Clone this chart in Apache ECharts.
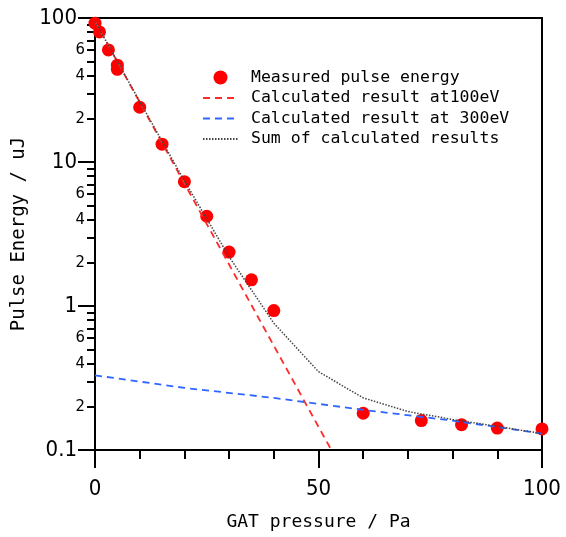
<!DOCTYPE html>
<html>
<head>
<meta charset="utf-8">
<script src="https://cdn.jsdelivr.net/npm/echarts@6/dist/echarts.min.js"></script>
<style>
	html, body { margin: 0; padding: 0; background: #fff; }
	#chart-container { width: 566px; height: 537px; }
</style>
</head>
<body>
<div id="chart-container"></div>
<script>
// measured points
const measuredPressure = [0, 1, 3, 5, 5, 10, 15, 20, 25, 30, 35, 40, 60, 73, 82, 90, 100];
const measuredEnergy = [92, 80, 60, 47, 44, 24, 13.3, 7.3, 4.2, 2.37, 1.52, 0.93, 0.18, 0.16, 0.15, 0.142, 0.14];

// calculated curves
const calc100Pressure = [0, 10, 20, 30, 40, 50, 60];
const calc100Energy = [95, 26, 7.1, 1.94, 0.53, 0.145, 0.04];
const calc300Pressure = [0, 20, 40, 60, 80, 100];
const calc300Energy = [0.33, 0.27, 0.23, 0.19, 0.16, 0.13];
const sumPressure = [0, 10, 20, 30, 40, 50, 60, 70, 80, 90, 100];
const sumEnergy = [95, 26.3, 7.4, 2.2, 0.76, 0.35, 0.23, 0.185, 0.163, 0.146, 0.13];

// y axis ticks / labels (real values, log scale)
const yMajorTicks = [0.1, 1, 10, 100];
const yMinorTicks = [0.2, 0.3, 0.4, 0.5, 0.6, 0.7, 0.8, 0.9, 2, 3, 4, 5, 6, 7, 8, 9, 20, 30, 40, 50, 60, 70, 80, 90];
const yLabelValues = [0.1, 0.2, 0.4, 0.6, 1, 2, 4, 6, 10, 20, 40, 60, 100];

const legendNames = ['Measured pulse energy', 'Calculated result at100eV', 'Calculated result at 300eV', 'Sum of calculated results'];

const monoFont = "'DejaVu Sans Mono', 'Liberation Mono', monospace";
const numFont = "'Liberation Sans Narrow', 'DejaVu Sans Condensed', 'Liberation Sans', Arial, sans-serif";

const zip = (xs, ys) => xs.map((x, i) => [x, ys[i]]);
const lg = v => Math.log10(v);

function yLabel(v) {
	const real = Math.pow(10, v);
	const e = Math.floor(v + 1e-9);
	const m = Math.round(real / Math.pow(10, e));
	if (m === 1) {
		const txt = e < 0 ? '0.1' : String(Math.round(real));
		return '{big|' + txt + '}';
	}
	return '{small|' + m + '}';
}

const chart = echarts.init(document.getElementById('chart-container'), null, {renderer: 'canvas'});

let option = {
	animation: false,
	backgroundColor: '#fff',
	grid: {
		left: 95,
		right: 24,
		top: 18,
		bottom: 87,
		show: true,
		borderColor: '#000',
		borderWidth: 2,
	},
	legend: {
		orient: 'vertical',
		left: 197,
		top: 64,
		itemWidth: 35,
		itemHeight: 14,
		itemGap: 3.5,
		data: [
			{name: legendNames[0]},
			{name: legendNames[1], itemStyle: {opacity: 0}},
			{name: legendNames[2], itemStyle: {opacity: 0}},
			{name: legendNames[3], itemStyle: {opacity: 0}},
		],
		textStyle: {
			fontFamily: monoFont,
			fontSize: 16.5,
			color: '#000',
			padding: [0, 0, 0, 8],
		},
	},
	xAxis: {
		type: 'value',
		min: 0,
		max: 100,
		interval: 50,
		axisLine: {onZero: false, lineStyle: {color: '#000', width: 2}},
		axisTick: {length: 18, lineStyle: {color: '#000', width: 2}},
		minorTick: {show: true, splitNumber: 5, length: 9, lineStyle: {color: '#000', width: 2}},
		splitLine: {show: false},
		minorSplitLine: {show: false},
		axisLabel: {
			margin: 28,
			color: '#000',
			fontFamily: numFont,
			fontSize: 22,
		},
		name: 'GAT pressure / Pa',
		nameLocation: 'middle',
		nameGap: 63,
		nameTextStyle: {fontFamily: monoFont, fontSize: 18, color: '#000'},
	},
	yAxis: [
		{
			// data axis
			type: 'log',
			logBase: 10,
			min: 0.1,
			max: 100,
			axisLine: {show: false},
			axisTick: {show: false},
			axisLabel: {show: false},
			splitLine: {show: false},
		},
		{
			// major ticks + labels, drawn in log10 space
			type: 'value',
			min: -1,
			max: 2,
			interval: 1,
			position: 'left',
			axisLine: {show: true, onZero: false, lineStyle: {color: '#000', width: 2}},
			axisTick: {show: true, length: 17, lineStyle: {color: '#000', width: 2}},
			splitLine: {show: false},
			axisLabel: {
				customValues: yLabelValues.map(lg),
				margin: 10,
				formatter: yLabel,
				rich: {
					big: {fontFamily: numFont, fontSize: 22, color: '#000', padding: [0, 8, 0, 0]},
					small: {fontFamily: numFont, fontSize: 16.5, color: '#000'},
				},
			},
			name: 'Pulse Energy / uJ',
			nameLocation: 'middle',
			nameGap: 64,
			nameTextStyle: {fontFamily: monoFont, fontSize: 19, color: '#000'},
		},
		{
			// minor ticks
			type: 'value',
			min: -1,
			max: 2,
			position: 'left',
			axisLine: {show: false, onZero: false},
			axisTick: {show: true, customValues: yMinorTicks.map(lg), length: 8, lineStyle: {color: '#000', width: 2}},
			axisLabel: {show: false},
			splitLine: {show: false},
		},
	],
	series: [
		{
			name: legendNames[0],
			type: 'scatter',
			yAxisIndex: 0,
			data: zip(measuredPressure, measuredEnergy),
			symbol: 'circle',
			symbolSize: 13,
			itemStyle: {color: '#ff0000', opacity: 1},
			z: 2,
		},
		{
			name: legendNames[1],
			type: 'line',
			yAxisIndex: 0,
			data: zip(calc100Pressure, calc100Energy),
			symbol: 'none',
			clip: true,
			lineStyle: {color: '#ff2a2a', width: 1.8, type: [7, 5]},
			itemStyle: {color: '#ff2a2a'},
			z: 3,
		},
		{
			name: legendNames[2],
			type: 'line',
			yAxisIndex: 0,
			data: zip(calc300Pressure, calc300Energy),
			symbol: 'none',
			clip: true,
			lineStyle: {color: '#2f66ff', width: 1.8, type: [7, 5]},
			itemStyle: {color: '#2f66ff'},
			z: 3,
		},
		{
			name: legendNames[3],
			type: 'line',
			yAxisIndex: 0,
			data: zip(sumPressure, sumEnergy),
			symbol: 'none',
			clip: true,
			lineStyle: {color: '#444', width: 1.5, type: [1.5, 1.5]},
			itemStyle: {color: '#444'},
			z: 4,
		},
	],
};

chart.setOption(option);
</script>
</body>
</html>
